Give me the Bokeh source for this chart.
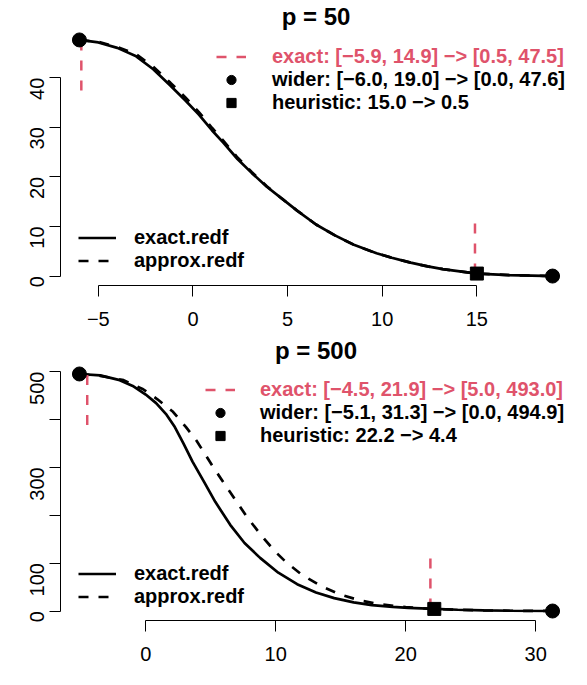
import math
from bokeh.plotting import figure
from bokeh.models import Range1d, FixedTicker, Legend, LegendItem
from bokeh.layouts import column
from bokeh.embed import file_html
from bokeh.resources import INLINE

RED = "#DF536B"
FONT = "Liberation Sans"

# ---------------- panel p = 50 ----------------
p50_x = [-6.0, -5.0, -4.0, -3.0, -2.1, -1.2, -0.4, 0.3, 1.0, 1.6, 2.35, 3.1, 3.9, 4.7,
         5.5, 6.5, 7.5, 8.5, 9.7, 10.5, 11.5, 12.4, 13.2, 14.6, 15.0, 16.7, 18.5, 19.0]
p50_exact = [47.6, 47.1, 46.0, 44.3, 41.7, 38.4, 35.4, 32.6, 29.4, 26.9, 23.6, 20.8, 18.0, 15.6,
             13.2, 10.4, 8.2, 6.3, 4.6, 3.7, 2.7, 1.95, 1.4, 0.7, 0.5, 0.2, 0.05, 0.0]
p50_approx = [47.6, 47.2, 46.2, 44.7, 42.2, 39.0, 36.0, 33.1, 29.9, 27.3, 23.9, 21.0, 18.1, 15.6,
              13.2, 10.4, 8.2, 6.3, 4.6, 3.7, 2.7, 1.95, 1.4, 0.7, 0.5, 0.2, 0.05, 0.0]
p50_exact_x = [-5.9, 14.9]
p50_exact_y = [47.5, 0.5]
p50_exact_tail = [36.0, 12.2]
p50_wider_x = [-6.0, 19.0]
p50_wider_y = [47.6, 0.0]
p50_heur_x = [15.0]
p50_heur_y = [0.5]
p50_xticks = [-5, 0, 5, 10, 15]
p50_xtick_labels = ["\u22125", "0", "5", "10", "15"]
p50_yticks = [0, 10, 20, 30, 40]
p50_ytick_labels = ["0", "10", "20", "30", "40"]

# ---------------- panel p = 500 ----------------
p500_x_exact = [-5.1, -3.5, -2.0, -1.0, 0.0, 0.8, 1.6, 2.2, 2.9, 3.6, 4.5, 5.35, 6.5, 7.6,
                8.8, 10.2, 11.65, 13.1, 14.5, 16.0, 17.4, 19.0, 20.2, 22.2, 24.0, 26.0, 28.0, 31.3]
p500_exact = [494.9, 492.0, 482.0, 470.0, 452.0, 434.0, 410.0, 386.0, 350.0, 312.0, 269.0, 228.0,
              180.0, 142.0, 111.0, 80.0, 56.0, 38.6, 27.0, 18.0, 12.4, 8.5, 6.5, 4.4, 2.6, 1.3, 0.6, 0.0]
p500_x_approx = [-5.1, -3.5, -1.7, -0.2, 0.9, 2.1, 3.1, 3.9, 5.2, 6.5, 7.8, 9.0, 10.0, 10.8,
                 12.0, 13.5, 15.0, 16.5, 18.0, 20.0, 22.2, 24.0, 26.0, 28.0, 31.3]
p500_approx = [494.9, 491.0, 482.0, 463.0, 442.0, 416.0, 384.0, 356.0, 300.0, 248.0, 196.0, 154.0,
               123.0, 102.0, 76.0, 52.0, 34.0, 22.0, 14.0, 8.0, 4.4, 2.6, 1.3, 0.6, 0.0]
p500_exact_x = [-4.5, 21.9]
p500_exact_y = [493.0, 5.0]
p500_exact_tail = [373.5, 124.0]
p500_wider_x = [-5.1, 31.3]
p500_wider_y = [494.9, 0.0]
p500_heur_x = [22.2]
p500_heur_y = [4.4]
p500_xticks = [0, 10, 20, 30]
p500_xtick_labels = ["0", "10", "20", "30"]
p500_yticks = [0, 100, 200, 300, 400, 500]
p500_ytick_labels = ["0", "100", "", "300", "", "500"]


def fmt(v):
    return f"{v:.1f}".replace("-", "\u2212")


def expand(lo, hi, f=0.04):
    d = (hi - lo) * f
    return lo - d, hi + d


def panel(title, height, b_top, b_bottom,
          xe, ye, xa, ya, ex_x, ex_y, ex_tail, wd_x, wd_y, he_x, he_y,
          xticks, xlabels, yticks, ylabels,
          red_loc, blk_loc, red_standoff, bl_loc):
    x0, x1 = expand(min(wd_x), max(wd_x))
    y0, y1 = expand(min(wd_y), max(wd_y))
    width = 571
    p = figure(width=width, height=height, output_backend="svg", toolbar_location=None,
               x_range=Range1d(x0, x1), y_range=Range1d(y0, y1),
               min_border_left=60, min_border_right=0,
               min_border_top=b_top, min_border_bottom=b_bottom)
    p.outline_line_color = None
    p.xgrid.visible = False
    p.ygrid.visible = False
    p.background_fill_color = "white"
    p.border_fill_color = "white"

    p.title.text = title
    p.title.align = "center"
    p.title.text_font = FONT
    p.title.text_font_style = "bold"
    p.title.text_font_size = "24px"
    p.title.text_color = "black"
    p.title.standoff = 1

    for ax, ticks, labels, standoff in ((p.xaxis[0], xticks, xlabels, 15),
                                        (p.yaxis[0], yticks, ylabels, 12)):
        ax.ticker = FixedTicker(ticks=ticks)
        ax.bounds = (ticks[0], ticks[-1])
        ax.major_label_overrides = {t: l for t, l in zip(ticks, labels)}
        ax.major_tick_out = 11
        ax.major_tick_in = 0
        ax.minor_tick_line_color = None
        ax.major_tick_line_color = "black"
        ax.axis_line_color = "black"
        ax.major_label_text_font = FONT
        ax.major_label_text_font_size = "20px"
        ax.major_label_text_color = "black"
        ax.major_label_standoff = standoff
    p.yaxis[0].major_label_orientation = math.pi / 2

    r_exact = p.line(xe, ye, line_color="black", line_width=2.7)
    r_approx = p.line(xa, ya, line_color="black", line_width=2.7, line_dash="10 10")
    r_seg = p.segment(x0=ex_x, y0=ex_y, x1=ex_x, y1=ex_tail, line_color=RED,
                      line_width=2.5, line_dash="10 10")
    r_wide = p.scatter(wd_x, wd_y, marker="circle", size=14, color="black")
    r_heur = p.scatter(he_x, he_y, marker="square", size=13, color="black")

    common = dict(spacing=0, padding=0, margin=0, border_line_color=None,
                  background_fill_alpha=0, label_text_font=FONT,
                  label_text_font_style="bold", label_text_font_size="20px",
                  glyph_height=23, label_height=23)

    exact_lab = f"exact: [{fmt(ex_x[0])}, {fmt(ex_x[1])}] \u2212> [{fmt(min(ex_y))}, {fmt(max(ex_y))}]"
    wider_lab = f"wider: [{fmt(wd_x[0])}, {fmt(wd_x[1])}] \u2212> [{fmt(min(wd_y))}, {fmt(max(wd_y))}]"
    heur_lab = f"heuristic: {fmt(he_x[0])} \u2212> {fmt(he_y[0])}"

    leg_red = Legend(items=[LegendItem(label=exact_lab, renderers=[r_seg])],
                     location=red_loc, glyph_width=30, label_standoff=red_standoff,
                     label_text_color=RED, **common)
    leg_blk = Legend(items=[LegendItem(label=wider_lab, renderers=[r_wide]),
                            LegendItem(label=heur_lab, renderers=[r_heur])],
                     location=blk_loc, glyph_width=30, label_standoff=red_standoff,
                     label_text_color="black", **common)
    leg_bl = Legend(items=[LegendItem(label="exact.redf", renderers=[r_exact]),
                           LegendItem(label="approx.redf", renderers=[r_approx])],
                    location=bl_loc, glyph_width=38, label_standoff=18,
                    label_text_color="black", **common)
    for lg in (leg_red, leg_blk, leg_bl):
        p.add_layout(lg)
    return p


p1 = panel("p = 50", 334, 30, 49,
           p50_x, p50_exact, p50_x, p50_approx,
           p50_exact_x, p50_exact_y, p50_exact_tail,
           p50_wider_x, p50_wider_y, p50_heur_x, p50_heur_y,
           p50_xticks, p50_xtick_labels, p50_yticks, p50_ytick_labels,
           red_loc=(156, 217.5), blk_loc=(156, 171.2), red_standoff=26, bl_loc=(18, 13))

p2 = panel("p = 500", 335, 30, 49,
           p500_x_exact, p500_exact, p500_x_approx, p500_approx,
           p500_exact_x, p500_exact_y, p500_exact_tail,
           p500_wider_x, p500_wider_y, p500_heur_x, p500_heur_y,
           p500_xticks, p500_xtick_labels, p500_yticks, p500_ytick_labels,
           red_loc=(145, 219.5), blk_loc=(145, 173.2), red_standoff=25, bl_loc=(18, 12.5))

layout = column(p1, p2)
open("out.html", "w").write(file_html(layout, INLINE))
